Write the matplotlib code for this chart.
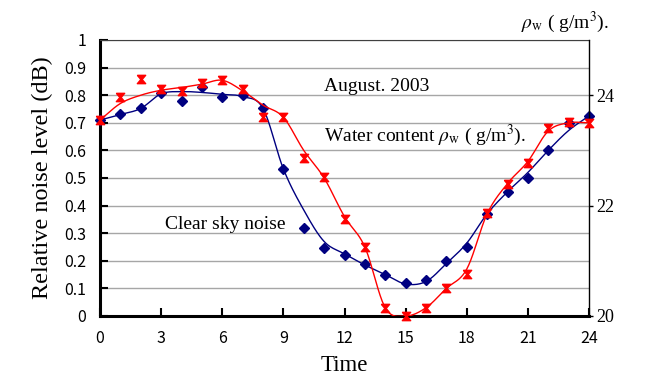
import numpy as np
import matplotlib
matplotlib.use("Agg")
import matplotlib.pyplot as plt

# ---- data ----
hours = list(range(25))
noise = [0.71, 0.732, 0.752, 0.807, 0.78, 0.831, 0.792, 0.80, 0.752, 0.533, 0.32, 0.247, 0.22,
         0.188, 0.148, 0.118, 0.13, 0.20, 0.25, 0.37, 0.45, 0.50, 0.60, 0.70, 0.725]
noise_trend = [0.71, 0.73, 0.752, 0.805, 0.813, 0.81, 0.803, 0.795, 0.752, 0.533, 0.384, 0.27, 0.225,
               0.185, 0.15, 0.116, 0.125, 0.19, 0.264, 0.37, 0.45, 0.52, 0.60, 0.672, 0.725]
water = [23.55, 23.96, 24.3, 24.11, 24.07, 24.22, 24.27, 24.11, 23.61, 23.6, 22.86, 22.52, 21.75,
         21.25, 20.14, 20.0, 20.14, 20.5, 20.76, 21.86, 22.4, 22.77, 23.4, 23.52, 23.5]
water_trend = [23.55, 23.85, 24.0, 24.09, 24.14, 24.2, 24.27, 24.08, 23.82, 23.6, 23.0, 22.5, 21.8,
               21.25, 20.15, 20.0, 20.15, 20.5, 20.85, 21.85, 22.4, 22.8, 23.35, 23.5, 23.5]
x_ticks = [0, 3, 6, 9, 12, 15, 18, 21, 24]
left_ticks = [0, 0.1, 0.2, 0.3, 0.4, 0.5, 0.6, 0.7, 0.8, 0.9, 1]
right_ticks = [20, 22, 24]


def smooth(xs, ys, n=20):
    """Catmull-Rom curve through the trend points."""
    xs = np.asarray(xs, float)
    ys = np.asarray(ys, float)
    m = np.gradient(ys, xs)
    m[1:-1] = (ys[2:] - ys[:-2]) / (xs[2:] - xs[:-2])
    X, Y = [], []
    for i in range(len(xs) - 1):
        t = np.linspace(0, 1, n, endpoint=(i == len(xs) - 2))
        h = xs[i + 1] - xs[i]
        h00 = 2 * t**3 - 3 * t**2 + 1
        h10 = t**3 - 2 * t**2 + t
        h01 = -2 * t**3 + 3 * t**2
        h11 = t**3 - t**2
        X.append(xs[i] + t * h)
        Y.append(h00 * ys[i] + h10 * h * m[i] + h01 * ys[i + 1] + h11 * h * m[i + 1])
    return np.concatenate(X), np.concatenate(Y)


plt.rcParams['mathtext.fontset'] = 'stix'
serif = 'Liberation Serif'
tickfont = 'Noto Sans CJK JP'

fig = plt.figure(figsize=(6.46, 3.83), dpi=100)
ax = fig.add_axes([100 / 646, 1 - 316 / 383, 489 / 646, 276 / 383])
ax2 = ax.twinx()

ax.set_xlim(0, 24)
ax.set_ylim(0, 1)
ax2.set_ylim(20, 25)

for y in left_ticks[1:]:
    ax.axhline(y, color='#a6a6a6', lw=1.0, zorder=0)

hourglass = [(-1, 1), (1, 1), (0.15, 0), (1, -1), (-1, -1), (-0.15, 0), (-1, 1)]

sx, sy = smooth(hours, noise_trend)
ax.plot(sx, sy, color='#000080', lw=1.0, zorder=3)
ax.plot(hours, noise, linestyle='none', marker='D', ms=5, color='#000080', zorder=4, clip_on=False)

wx, wy = smooth(hours, water_trend)
ax2.plot(wx, wy, color='#ff0000', lw=1.0, zorder=3)
ax2.plot(hours, water, linestyle='none', marker=hourglass, ms=6, color='#ff0000', zorder=4, clip_on=False)

ax.set_xticks(x_ticks)
ax.set_yticks(left_ticks)
ax.set_yticklabels(['0', '0.1', '0.2', '0.3', '0.4', '0.5', '0.6', '0.7', '0.8', '0.9', '1'])
ax.tick_params(axis='both', direction='in', length=6, width=1.5, color='black', labelsize=11.5)
ax.tick_params(axis='x', pad=10)
ax.tick_params(axis='y', pad=10)
for lab in ax.get_xticklabels() + ax.get_yticklabels():
    lab.set_fontfamily(tickfont)

ax2.set_yticks(right_ticks)
ax2.tick_params(axis='y', direction='out', length=3, width=1, labelsize=13, pad=2)
for lab in ax2.get_yticklabels():
    lab.set_fontfamily(serif)

for s in ['left', 'bottom']:
    ax.spines[s].set_linewidth(2.2)
ax.spines['top'].set_linewidth(0.8)
ax.spines['top'].set_color('#404040')
ax.spines['right'].set_visible(False)
ax2.spines['left'].set_visible(False)
ax2.spines['bottom'].set_visible(False)
ax2.spines['top'].set_visible(False)
ax2.spines['right'].set_linewidth(1.0)

ax.set_ylabel('Relative noise level (dB)', fontfamily=serif, fontsize=17.5, labelpad=8)
ax.set_xlabel('Time', fontfamily=serif, fontsize=16.5, labelpad=6)

ax.text(11.0, 0.83, 'August. 2003', fontfamily=serif, fontsize=14, va='center', ha='left')
ax.text(11.0, 0.656, r'Water content $\rho_{\rm w}$ ( g/m$^3$).', fontfamily=serif, fontsize=14,
        va='center', ha='left')
ax.text(3.2, 0.333, 'Clear sky noise', fontfamily=serif, fontsize=14, va='center', ha='left')
fig.text(521 / 646, 1 - 22 / 383, r'$\rho_{\rm w}$ ( g/m$^3$).', fontfamily=serif, fontsize=14,
         va='center', ha='left')

fig.savefig('out.png', dpi=100)
